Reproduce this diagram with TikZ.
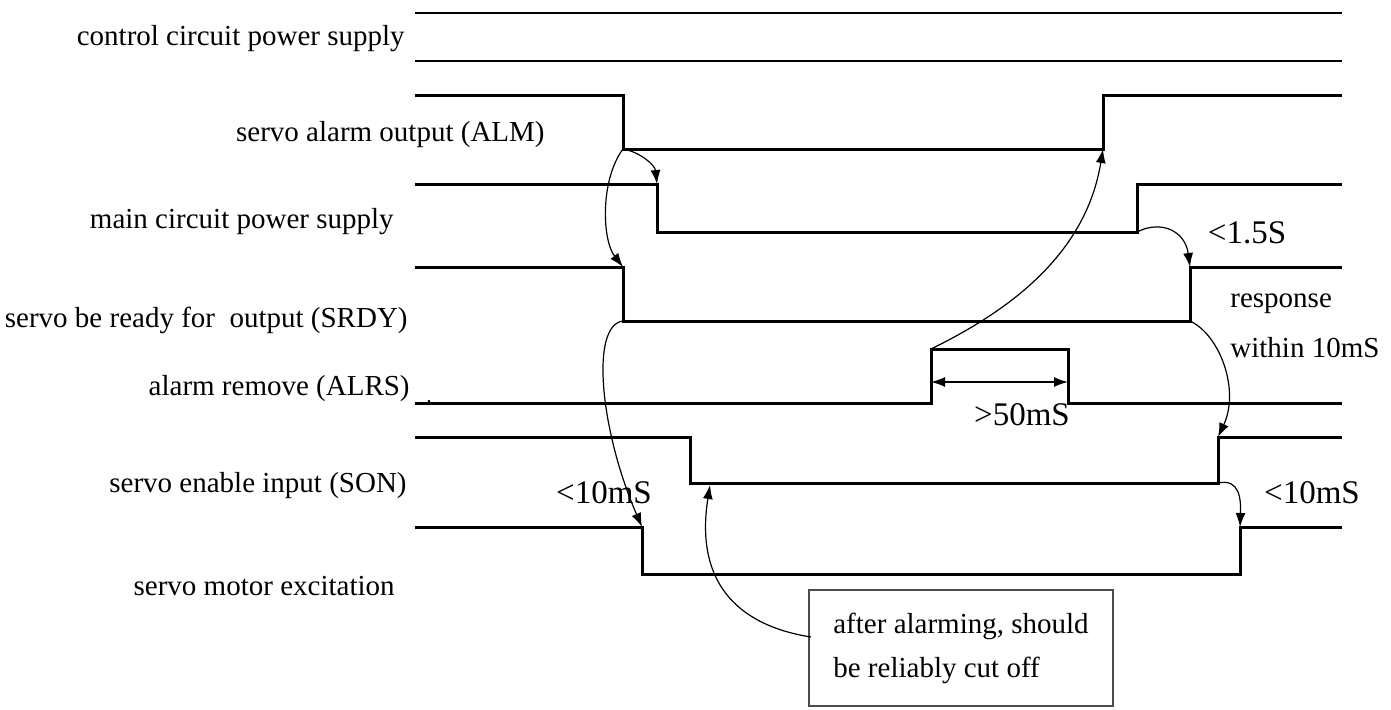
\documentclass[tikz,border=0pt]{standalone}
\usepackage{fontspec}
\setmainfont{Liberation Serif}
\usetikzlibrary{arrows.meta}
\begin{document}
\begin{tikzpicture}[x=0.5pt,y=-0.5pt,
  sig/.style={line width=1.5pt,line join=miter},
  thinsig/.style={line width=1.1pt},
  arr/.style={line width=0.6pt,-{Latex[length=7pt,width=5pt]}},
  dblarr/.style={line width=0.8pt,{Latex[length=7pt,width=5pt]}-{Latex[length=7pt,width=5pt]}},
  lab/.style={font=\fontsize{14.5}{17}\selectfont,anchor=base east,inner sep=0pt},
  tlab/.style={font=\fontsize{16.5}{19}\selectfont,anchor=base,inner sep=0pt},
  slab/.style={font=\fontsize{14.5}{17}\selectfont,anchor=base west,inner sep=0pt},
  notebox/.style={draw=black!70,line width=0.9pt,font=\fontsize{14.5}{22}\selectfont,align=left,
    minimum width=152pt,minimum height=58pt,inner sep=0pt}]
\useasboundingbox (0,0) rectangle (1391,709);

% labels
\node[lab] (l1) at (405,45) {control circuit power supply};
\node[lab] (l2) at (545,141) {servo alarm output (ALM)};
\node[lab] (l3) at (394,228) {main circuit power supply};
\node[lab] (l4) at (408,327) {servo be ready for\ \ output (SRDY)};
\node[lab] (l5) at (410,395) {alarm remove (ALRS)};
\node[lab] (l5b) at (432,402) {\fontsize{10}{10}\selectfont \_,};
\node[lab] (l6) at (407,492) {servo enable input (SON)};
\node[lab] (l7) at (395,595) {servo motor excitation};

% control circuit power supply
\draw[thinsig] (415,13) coordinate (c1a) -- (1342,13) coordinate (c1b);
\draw[thinsig] (415,61) coordinate (c2a) -- (1342,61) coordinate (c2b);

% ALM
\draw[sig] (415,95) -- (623,95) coordinate (almFt) -- (623,149) coordinate (almFb)
  -- (1103,149) coordinate (almRb) -- (1103,95) coordinate (almRt) -- (1342,95);
% main circuit
\draw[sig] (415,184) -- (657,184) coordinate (mainFt) -- (657,232) coordinate (mainFb)
  -- (1137,232) coordinate (mainRb) -- (1137,184) coordinate (mainRt) -- (1342,184);
% SRDY
\draw[sig] (415,267) -- (623,267) coordinate (srdyFt) -- (623,321) coordinate (srdyFb)
  -- (1190,321) coordinate (srdyRb) -- (1190,267) coordinate (srdyRt) -- (1342,267);
% ALRS
\draw[sig] (415,403) -- (931,403) coordinate (alrsRb) -- (931,349) coordinate (alrsRt)
  -- (1068,349) coordinate (alrsFt) -- (1068,403) coordinate (alrsFb) -- (1342,403);
% SON
\draw[sig] (415,437) -- (690,437) coordinate (sonFt) -- (690,483) coordinate (sonFb)
  -- (1218,483) coordinate (sonRb) -- (1218,437) coordinate (sonRt) -- (1342,437);
% motor
\draw[sig] (415,527) -- (642,527) coordinate (motFt) -- (642,574) coordinate (motFb)
  -- (1240,574) coordinate (motRb) -- (1240,527) coordinate (motRt) -- (1342,527);

% box
\node[notebox] (box) at (961,648) {after alarming, should\\be reliably cut off};
\coordinate (boxIn) at (811,637);
\coordinate (sonHit) at (710,485);

% timing arrows
\draw[arr] (almFb) .. controls (640,152) and (655,165) .. (mainFt);
\draw[arr] (almFb) .. controls (600,180) and (602,240) .. (srdyFt);
\draw[arr] (srdyFb) .. controls (590,325) and (600,430) .. (motFt);
\draw[arr] (boxIn) .. controls (735,625) and (695,580) .. (sonHit);
\draw[arr] (alrsRt) .. controls (1000,315) and (1085,260) .. (almRb);
\draw[arr] (mainRb) .. controls (1160,220) and (1185,230) .. (srdyRt);
\draw[arr] (srdyRb) .. controls (1220,335) and (1240,390) .. (sonRt);
\draw[arr] (sonRb) .. controls (1240,478) and (1241,500) .. (motRt);

\coordinate (d1) at (931,382);
\coordinate (d2) at (1068,382);
\draw[dblarr] (d1) -- (d2);

% time labels
\node[tlab] (t1) at (1247,243) {<1.5S};
\node[tlab] (t2) at (1022,425) {>50mS};
\node[tlab] (t3) at (604,503) {<10mS};
\node[tlab] (t4) at (1312,503) {<10mS};
\node[slab] (r1) at (1230,307) {response};
\node[slab] (r2) at (1230,357) {within 10mS};
\end{tikzpicture}
\end{document}
